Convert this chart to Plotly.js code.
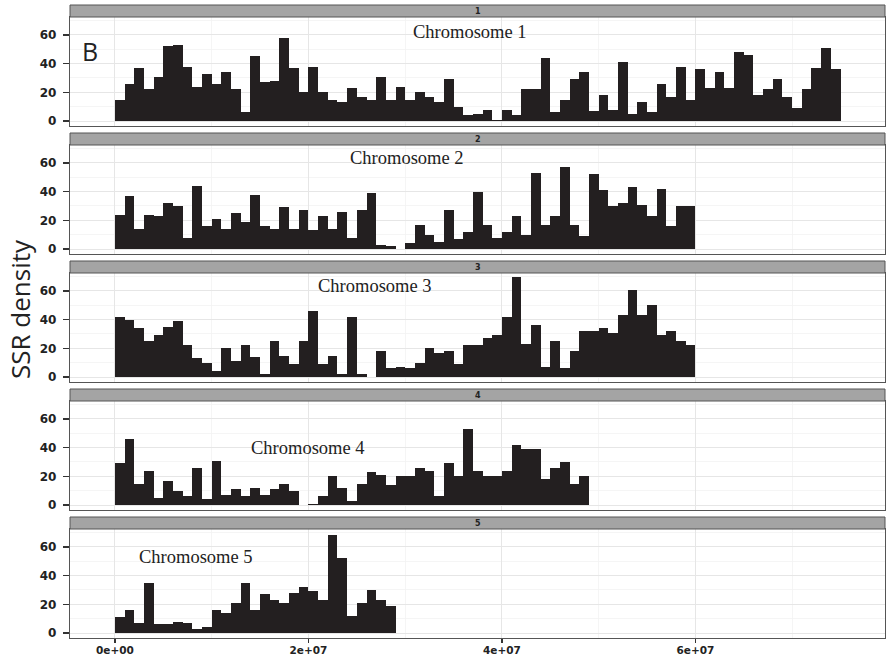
<!DOCTYPE html>
<html><head><meta charset="utf-8">
<script src="https://cdn.plot.ly/plotly-3.0.1.min.js"></script>
<style>html,body{margin:0;padding:0;background:#fff}#chart{width:886px;height:658px}</style>
</head><body><div id="chart"></div>
<script>
// ---- data ----
const BIN_WIDTH = 1e6;
const stripLabels = ['1', '2', '3', '4', '5'];
const chromosomeTitles = ['Chromosome 1', 'Chromosome 2', 'Chromosome 3', 'Chromosome 4', 'Chromosome 5'];
const chr1Density = [15,26,37,22,31,52,53,38,24,33,26,34,22,6,45,27,28,58,37,20,38,20,15,13,23,17,15,31,15,24,15,20,17,13,29,10,4,5,8,1,8,4,22,22,44,6,15,29,34,7,18,8,41,5,13,6,26,17,38,15,36,23,34,23,48,46,18,22,29,17,9,22,37,51,36];
const chr2Density = [24,37,14,24,23,32,30,8,44,16,21,14,25,19,38,16,14,29,14,27,13,23,14,26,8,27,39,3,2,0,4,17,10,5,27,7,12,40,17,8,12,23,10,53,17,23,57,17,9,52,41,30,32,43,31,23,42,16,30,30];
const chr3Density = [42,40,34,25,29,35,39,22,13,10,4,20,11,22,14,2,25,15,9,25,46,9,15,2,42,2,0,18,6,7,6,10,20,17,18,9,22,22,27,29,42,70,23,36,7,25,6,18,32,32,34,31,43,61,43,50,29,32,25,22];
const chr4Density = [29,46,15,24,5,17,10,6,26,4,31,7,11,6,12,7,11,15,10,0,1,6,20,12,3,15,23,21,14,20,20,26,24,6,29,20,53,24,20,20,24,42,39,39,18,26,30,15,20];
const chr5Density = [11,16,7,35,6,6,8,7,3,4,16,14,21,35,16,27,23,21,28,32,29,23,68,52,12,21,30,23,19];
const densities = [chr1Density, chr2Density, chr3Density, chr4Density, chr5Density];
const yTickVals = [0, 20, 40, 60];
const xTickVals = [0, 2e7, 4e7, 6e7];
const xTickText = ['0e+00', '2e+07', '4e+07', '6e+07'];
const xMinorVals = [1e7, 3e7, 5e7, 7e7];
const yAxisTitle = 'SSR density';
const panelLetter = 'B';

// ---- layout geometry (pixels) ----
const W = 886, H = 658, L = 70, R = 1;
const plotW = W - L - R;
const py = p => 1 - p / H;
const px = p => (p - L) / plotW;
const PERIOD = 128;
const STRIP_TOP = 5, PANEL_TOP = 17, PANEL_BOTTOM = 126;
const titlePos = [[470, 32], [407, 158], [375, 286], [308, 448], [196, 557]];

const yTickFont = {family: 'DejaVu Sans', size: 12, color: '#222', weight: 'bold'};
const xTickFont = {family: 'DejaVu Sans', size: 10.5, color: '#222', weight: 'bold'};
const traces = [];
const layout = {
  width: W, height: H,
  margin: {l: L, r: R, t: 0, b: 0},
  paper_bgcolor: '#fff', plot_bgcolor: '#fff',
  showlegend: false, bargap: 0,
  shapes: [], annotations: []
};

densities.forEach((vals, k) => {
  const s = k === 0 ? '' : String(k + 1);
  traces.push({
    type: 'bar',
    x: vals.map((v, i) => i * BIN_WIDTH + BIN_WIDTH / 2),
    y: vals,
    width: BIN_WIDTH,
    marker: {color: '#231f20', line: {width: 0}},
    xaxis: 'x' + s, yaxis: 'y' + s,
    hoverinfo: 'x+y'
  });
  const isBottom = k === densities.length - 1;
  layout['xaxis' + s] = {
    domain: [0, 1], anchor: 'y' + s,
    range: [-4.65e6, 79.6e6],
    tickmode: 'array', tickvals: xTickVals, ticktext: xTickText,
    showticklabels: isBottom, ticks: isBottom ? 'outside' : '',
    ticklen: 4, tickcolor: '#333', tickwidth: 1.3,
    ticklabelstandoff: -2,
    tickfont: xTickFont,
    showline: true, mirror: true, linecolor: '#555', linewidth: 1.2,
    showgrid: true, gridcolor: '#e6e6e6', gridwidth: 1,
    zeroline: false, automargin: false,
    minor: {tickmode: 'array', tickvals: xMinorVals, showgrid: true, gridcolor: '#f2f2f2', gridwidth: 0.8, ticks: ''}
  };
  const top = PANEL_TOP + PERIOD * k, bottom = PANEL_BOTTOM + PERIOD * k;
  layout['yaxis' + s] = {
    domain: [py(bottom), py(top)], anchor: 'x' + s,
    range: [-3.45, 72.5],
    tickmode: 'array', tickvals: yTickVals,
    ticks: 'outside', ticklen: 6, tickcolor: '#333', tickwidth: 1.3,
    ticklabelstandoff: 4,
    tickfont: yTickFont,
    showline: true, mirror: true, linecolor: '#555', linewidth: 1.2,
    showgrid: true, gridcolor: '#e6e6e6', gridwidth: 1,
    zeroline: false, automargin: false,
    minor: {dtick: 10, tick0: 0, showgrid: true, gridcolor: '#f2f2f2', gridwidth: 0.8, ticks: ''}
  };
  // strip
  const st = STRIP_TOP + PERIOD * k, sb = PANEL_TOP + PERIOD * k;
  layout.shapes.push({
    type: 'rect', xref: 'paper', yref: 'paper',
    x0: 0, x1: 1, y0: py(sb), y1: py(st),
    fillcolor: '#a4a4a4', line: {color: '#555', width: 1}
  });
  layout.annotations.push({
    xref: 'paper', yref: 'paper', x: 0.5, y: py((st + sb) / 2),
    text: stripLabels[k], showarrow: false, xanchor: 'center', yanchor: 'middle',
    font: {family: 'DejaVu Sans', size: 8, color: '#222', weight: 'bold'}
  });
  layout.annotations.push({
    xref: 'paper', yref: 'paper', x: px(titlePos[k][0]), y: py(titlePos[k][1]),
    text: chromosomeTitles[k], showarrow: false, xanchor: 'center', yanchor: 'middle',
    font: {family: 'Liberation Serif', size: 18.5, color: '#222'}
  });
});

layout.annotations.push({
  xref: 'paper', yref: 'paper', x: px(20), y: py(309),
  text: yAxisTitle, showarrow: false, textangle: -90,
  xanchor: 'center', yanchor: 'middle',
  font: {family: 'Open Sans', size: 26, color: '#222'}
});
layout.annotations.push({
  xref: 'paper', yref: 'paper', x: px(90), y: py(51),
  text: panelLetter, showarrow: false, xanchor: 'center', yanchor: 'middle',
  font: {family: 'Open Sans', size: 25, color: '#222'}
});

Plotly.newPlot('chart', traces, layout, {staticPlot: true, displayModeBar: false});
</script>
</body></html>
